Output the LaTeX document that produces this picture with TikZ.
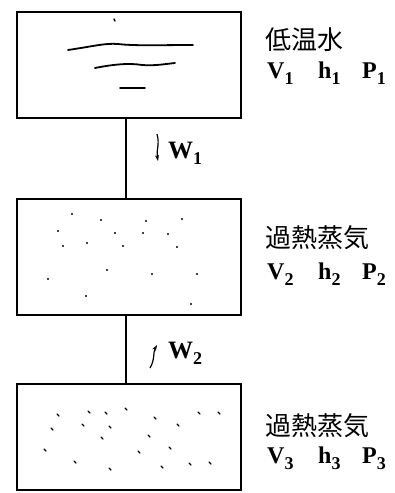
\documentclass[tikz,border=0pt]{standalone}
\usepackage{fontspec}
\setmainfont{Liberation Serif}
\newfontfamily\cjk{Noto Sans CJK JP}
\usetikzlibrary{arrows.meta}
\newcommand{\sbs}[1]{\raisebox{-0.25em}{\fontsize{18}{18}\selectfont #1}}
\begin{document}
\begin{tikzpicture}[x=1pt,y=-1pt,
  tank/.style={draw,line width=2pt,minimum width=224pt,inner sep=0pt,outer sep=0pt},
  pipe/.style={line width=1.3pt},
  jp/.style={font=\cjk\fontsize{26}{26}\selectfont,inner sep=0pt,anchor=west},
  var/.style={font=\bfseries\fontsize{24}{24}\selectfont,inner sep=0pt,anchor=base west},
  wlab/.style={font=\bfseries\fontsize{25}{25}\selectfont,inner sep=0pt,anchor=base west},
  wave/.style={line width=1.8pt,line cap=round},
  speck/.style={line width=1.4pt,line cap=round},
  flow/.style={line width=1.2pt,-{Stealth[length=6pt,width=4pt]}}]
\useasboundingbox (0,0) rectangle (395,493);
% tanks
\node[tank,minimum height=106pt] (t1) at (129,65) {};
\node[tank,minimum height=116pt] (t2) at (128.5,257) {};
\node[tank,minimum height=106pt] (t3) at (129,437) {};
% pipes
\draw[pipe] ([xshift=-3pt]t1.south) -- ([xshift=-2.5pt]t2.north);
\draw[pipe] ([xshift=-2.5pt]t2.south) -- ([xshift=-3pt]t3.north);
% water surface
\draw[wave] (68,50) .. controls (95,46) and (105,43) .. (118,44) .. controls (135,46) and (160,45) .. (193,45);
\draw[wave] (95,68) .. controls (115,64) and (130,63) .. (142,65) .. controls (155,66) and (165,64) .. (175,63);
\draw[wave] (120,88) -- (145,88);
\draw[speck] (114,19) -- (115,21);
% steam specks box 2
\foreach \p in {(72,214),(101,220),(146,221),(182,219),(58,231),(115,233),(143,233),(168,234),(63,246),(87,243),(123,246),(177,247),(107,270),(152,274),(197,274),(48,279),(86,296),(191,304)}
  \fill \p circle (1.2pt);
% steam specks box 3
\foreach \p in {(58,415),(89,412),(106,413),(126,409),(155,418),(199,413),(219,413),(52,429),(83,425),(110,427),(178,425),(102,438),(149,436),(45,450),(139,452),(170,448),(75,462),(110,469),(162,467),(190,464),(210,463)}
  \draw[speck] \p ++(-1,-1) -- ++(2,2);
% labels
\node[jp] (l1) at (265,40) {低温水};
\node[var] (v1) at (267,78) {V\sbs{1}};
\node[var] (h1) at (318,78) {h\sbs{1}};
\node[var] (p1) at (362,78) {P\sbs{1}};
\node[jp] (l2) at (265,238) {過熱蒸気};
\node[var] (v2) at (267,279) {V\sbs{2}};
\node[var] (h2) at (318,279) {h\sbs{2}};
\node[var] (p2) at (362,279) {P\sbs{2}};
\node[jp] (l3) at (265,426) {過熱蒸気};
\node[var] (v3) at (267,463) {V\sbs{3}};
\node[var] (h3) at (318,463) {h\sbs{3}};
\node[var] (p3) at (362,463) {P\sbs{3}};
% flows
\coordinate (a1s) at (157,134);
\coordinate (a1e) at (158,161);
\draw[flow] (a1s) .. controls (160,145) and (156,150) .. (a1e);
\node[wlab] (w1) at (168,158) {W\sbs{1}};
\coordinate (a2s) at (150,368);
\coordinate (a2e) at (157,345);
\draw[flow] (a2s) .. controls (155,360) and (153,352) .. (a2e);
\node[wlab] (w2) at (168,358) {W\sbs{2}};
\end{tikzpicture}
\end{document}
